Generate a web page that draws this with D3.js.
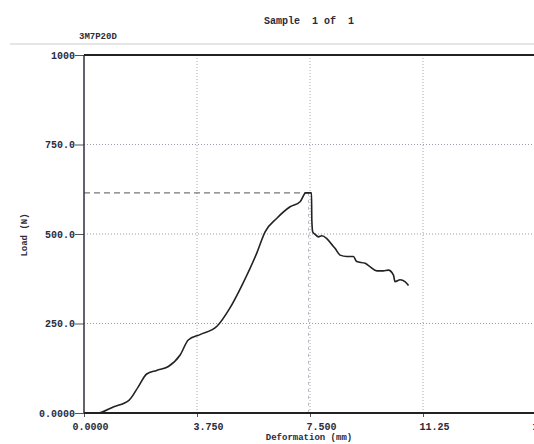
<!DOCTYPE html>
<html>
<head>
<meta charset="utf-8">
<script src="https://cdn.jsdelivr.net/npm/d3@7"></script>
<style>
  body { margin: 0; background: #fff; }
  text { font-family: "Liberation Mono", "DejaVu Sans Mono", monospace; font-weight: bold; fill: #2b2b3b; white-space: pre; }
</style>
</head>
<body>
<svg id="chart"></svg>
<script>
// deformation (mm) and load (N)
const deformation = [0, 0.45, 0.97, 1.50, 1.80, 2.08, 2.41, 2.80, 3.19, 3.46, 3.85, 4.42, 4.82, 5.25, 5.73, 6.01, 6.40, 6.84, 7.17, 7.36, 7.55, 7.56, 7.59, 7.67, 7.78, 7.89, 8.05, 8.22, 8.33, 8.50, 8.72, 8.94, 9.05, 9.33, 9.49, 9.72, 9.93, 10.10, 10.27, 10.32, 10.49, 10.65, 10.77];
const load = [0, 0, 17, 36, 73, 109, 119, 130, 162, 204, 219, 243, 290, 358, 446, 506, 544, 576, 590, 615, 615, 540, 506, 499, 492, 495, 488, 471, 460, 441, 437, 437, 423, 418, 409, 397, 397, 399, 385, 367, 372, 367, 356];
const xTicks = [0, 3.75, 7.5, 11.25, 15];
const xTickLabels = ["0.0000", "3.750", "7.500", "11.25", "15.00"];
const yTicks = [0, 250, 500, 750, 1000];
const yTickLabels = ["0.0000", "250.0", "500.0", "750.0", "1000"];
const peak = { x: 7.45, y: 615 };

const width = 534, height = 444;
const svg = d3.select("#chart").attr("width", width).attr("height", height);

const x = d3.scaleLinear().domain([0, 15]).range([84, 536]);
const y = d3.scaleLinear().domain([0, 1000]).range([413, 55]);

// header
svg.append("text").attr("x", 309).attr("y", 24).attr("text-anchor", "middle")
   .style("font-size", "10px").text("Sample  1 of  1");
svg.append("text").attr("x", 79).attr("y", 39)
   .style("font-size", "9px").text("3M7P20D");
svg.append("line").attr("x1", 10).attr("x2", width).attr("y1", 44).attr("y2", 44)
   .attr("stroke", "#ccc").attr("stroke-width", 1);

// gridlines
svg.append("g").selectAll("line").data(xTicks.slice(1, 4)).join("line")
   .attr("x1", d => x(d)).attr("x2", d => x(d))
   .attr("y1", y(1000)).attr("y2", y(0))
   .attr("stroke", "#aaa").attr("stroke-dasharray", "1,2");
svg.append("g").selectAll("line").data(yTicks.slice(1, 4)).join("line")
   .attr("x1", x(0)).attr("x2", width)
   .attr("y1", d => y(d)).attr("y2", d => y(d))
   .attr("stroke", "#9a9aae").attr("stroke-dasharray", "1,2");

// peak markers
svg.append("line").attr("x1", x(0)).attr("x2", x(peak.x))
   .attr("y1", y(peak.y)).attr("y2", y(peak.y))
   .attr("stroke", "#777").attr("stroke-width", 1.3).attr("stroke-dasharray", "6,4");
svg.append("line").attr("x1", x(peak.x)).attr("x2", x(peak.x))
   .attr("y1", y(peak.y)).attr("y2", y(0))
   .attr("stroke", "#b8b8c8").attr("stroke-dasharray", "3,4");

// axes
const xAxis = svg.append("g").attr("transform", `translate(0,${y(0)})`)
   .call(d3.axisBottom(x).tickValues(xTicks).tickSize(4).tickFormat((d, i) => xTickLabels[i]));
xAxis.select(".domain").remove();
xAxis.selectAll("text").attr("text-anchor", "start").attr("dx", (d, i) => i == 0 ? -12 : -4)
   .attr("y", 10).style("font-size", "10px");
xAxis.selectAll("line").attr("stroke", "#555");

const yAxis = svg.append("g").attr("transform", `translate(${x(0)},0)`)
   .call(d3.axisLeft(y).tickValues(yTicks).tickSize(9).tickFormat((d, i) => yTickLabels[i]));
yAxis.select(".domain").remove();
yAxis.selectAll("text").attr("x", -9).style("font-size", "10px");
yAxis.selectAll("line").attr("stroke", "#555");

svg.append("line").attr("x1", x(0)).attr("x2", x(0)).attr("y1", y(1000)).attr("y2", y(0))
   .attr("stroke", "#2f2f40").attr("stroke-width", 1.5);
svg.append("line").attr("x1", x(0)).attr("x2", width).attr("y1", y(0)).attr("y2", y(0))
   .attr("stroke", "#222").attr("stroke-width", 2);
svg.append("line").attr("x1", x(0)).attr("x2", width).attr("y1", y(1000)).attr("y2", y(1000))
   .attr("stroke", "#222").attr("stroke-width", 2);

// axis titles
svg.append("text").attr("x", 309).attr("y", 440).attr("text-anchor", "middle")
   .style("font-size", "9px").text("Deformation (mm)");
svg.append("text").attr("transform", "translate(27,235) rotate(-90)").attr("text-anchor", "middle")
   .style("font-size", "9px").text("Load (N)");

// load curve
const line = d3.line().x((d, i) => x(deformation[i])).y(d => y(d)).curve(d3.curveMonotoneX);
svg.append("path").datum(load).attr("d", line)
   .attr("fill", "none").attr("stroke", "#222").attr("stroke-width", 1.6)
   .attr("stroke-linejoin", "round");
</script>
</body>
</html>
